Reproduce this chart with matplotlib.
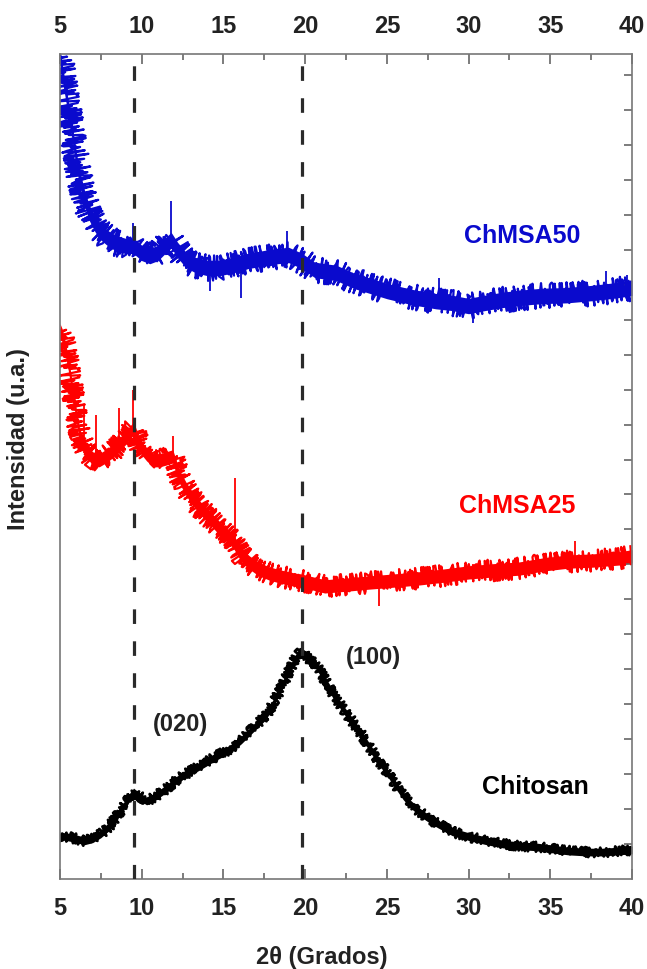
import numpy as np
import matplotlib
matplotlib.use("Agg")
import matplotlib.pyplot as plt

plt.rcParams['font.family'] = ['Liberation Sans', 'DejaVu Sans']
plt.rcParams['font.weight'] = 'bold'
plt.rcParams['axes.labelweight'] = 'bold'
plt.rcParams['lines.scale_dashes'] = False

# XRD patterns, smoothed trace + scan noise half-width (u.a.)
x_50 = [5.0, 5.2, 5.4, 5.6, 5.8, 6.0, 6.2, 6.5, 6.8, 7.1, 7.4, 7.9, 8.4, 9.0, 9.5,
        10.0, 10.5, 11.0, 11.3, 11.8, 12.2, 12.7, 13.3, 14.0, 14.8, 15.6, 16.5,
        17.6, 18.3, 19.0, 19.8, 20.6, 21.9, 23.0, 25.0, 26.5, 28.0, 29.0, 30.0,
        31.0, 32.0, 33.0, 34.5, 36.0, 37.5, 39.2, 40.0]
y_50 = [23.55, 22.92, 22.35, 21.78, 21.20, 20.57, 20.06, 19.48, 19.05, 18.77, 18.54,
        18.34, 18.19, 18.11, 18.11, 17.91, 17.82, 17.91, 18.05, 18.28, 17.99, 17.71,
        17.56, 17.48, 17.48, 17.56, 17.68, 17.77, 17.82, 17.85, 17.68, 17.42, 17.34,
        17.11, 16.82, 16.65, 16.53, 16.48, 16.39, 16.48, 16.56, 16.62, 16.68, 16.70,
        16.76, 16.85, 16.91]
noise_50 = 0.22

x_25 = [5.0, 5.15, 5.3, 5.5, 5.7, 5.95, 6.2, 6.6, 7.0, 7.4, 7.8, 8.2, 8.6, 9.0, 9.5,
        9.9, 10.3, 10.7, 11.1, 11.5, 11.9, 12.3, 12.7, 13.1, 13.6, 14.1, 14.6, 15.1,
        15.6, 16.1, 16.6, 17.1, 17.8, 18.5, 19.3, 20.0, 21.2, 22.5, 23.9, 25.5, 27.0,
        28.5, 30.0, 31.5, 33.1, 34.6, 36.1, 37.6, 39.2, 40.0]
y_25 = [15.70, 15.53, 15.24, 14.76, 14.18, 13.41, 12.69, 12.26, 12.03, 11.98, 12.09,
        12.23, 12.41, 12.61, 12.89, 12.38, 12.15, 11.98, 11.98, 12.03, 12.09, 11.52,
        11.17, 10.89, 10.60, 10.37, 10.11, 9.89, 9.66, 9.26, 9.05, 8.88, 8.74, 8.65,
        8.57, 8.51, 8.37, 8.42, 8.48, 8.54, 8.60, 8.68, 8.77, 8.83, 8.88, 9.00, 9.08,
        9.11, 9.17, 9.23]
noise_25 = 0.19

x_ch = [5.0, 5.5, 6.0, 6.5, 7.0, 7.5, 8.0, 8.5, 9.0, 9.5, 9.8, 10.3, 10.8, 11.5, 12.0,
        12.5, 13.0, 13.6, 14.1, 14.6, 15.1, 15.6, 16.1, 16.6, 17.1, 17.6, 18.1, 18.6,
        19.0, 19.3, 19.6, 19.8, 20.2, 20.7, 21.0, 21.4, 21.9, 22.4, 22.9, 23.5, 24.0,
        24.5, 25.0, 25.5, 26.0, 26.5, 27.0, 27.5, 28.1, 29.0, 30.1, 31.1, 32.1, 33.1,
        34.1, 35.1, 36.1, 37.2, 38.2, 39.2, 40.0]
y_ch = [1.23, 1.20, 1.15, 1.09, 1.15, 1.29, 1.49, 1.81, 2.15, 2.49, 2.38, 2.23, 2.35,
        2.58, 2.78, 2.95, 3.09, 3.24, 3.38, 3.52, 3.64, 3.78, 3.98, 4.21, 4.44, 4.67,
        5.07, 5.53, 5.93, 6.22, 6.45, 6.50, 6.30, 6.10, 5.87, 5.53, 5.16, 4.81, 4.50,
        4.10, 3.72, 3.38, 3.07, 2.72, 2.38, 2.12, 1.92, 1.75, 1.58, 1.35, 1.20, 1.09,
        1.00, 0.95, 0.92, 0.86, 0.80, 0.77, 0.77, 0.80, 0.83]
noise_ch = 0.11

# isolated spikes: position, low end, high end
spk_50_x = [7.3, 9.45, 11.8, 14.2, 16.1, 18.9, 28.2, 30.3, 38.4, 39.7]
spk_50_lo = [18.6, 18.0, 18.1, 16.82, 16.62, 17.7, 16.5, 15.90, 16.8, 16.8]
spk_50_hi = [19.14, 18.77, 19.40, 17.5, 17.6, 18.54, 17.19, 16.4, 17.39, 17.28]
spk_25_x = [6.5, 7.2, 8.6, 9.45, 11.9, 15.7, 24.5, 36.5]
spk_25_lo = [12.2, 12.0, 12.3, 12.8, 12.0, 9.6, 7.82, 9.0]
spk_25_hi = [13.55, 13.27, 13.47, 13.98, 12.66, 11.46, 8.5, 9.66]

peak_pos = [9.5, 19.8]

blue = '#0a0acd'
red = '#ff0000'

fig = plt.figure(figsize=(6.47, 9.70), dpi=100)
ax = fig.add_axes([0.0927, 0.0928, 0.8841, 0.8505])

# band for the trace body, jittery stroke on top for the grainy scan noise
for xs, ys, nz, c, jit, w in [(x_50, y_50, noise_50, blue, 13, 1.6),
                              (x_25, y_25, noise_25, red, 11, 1.6),
                              (x_ch, y_ch, noise_ch, 'black', 5, 2.0)]:
    xs = np.array(xs)
    ys = np.array(ys)
    ax.fill_between(xs, ys - nz, ys + nz, color=c, lw=0)
    ln, = ax.plot(xs, ys, color=c, lw=w)
    ln.set_sketch_params(scale=jit, length=1.3, randomness=3)

ax.vlines(spk_50_x, spk_50_lo, spk_50_hi, color=blue, lw=1.3)
ax.vlines(spk_25_x, spk_25_lo, spk_25_hi, color=red, lw=1.3)

for p in peak_pos:
    ax.axvline(p, color='#2a2a2a', lw=2.3, dashes=(10.5, 12.5), zorder=5)

ax.text(33.3, 18.42, 'ChMSA50', color=blue, fontsize=18, ha='center', va='center')
ax.text(33.0, 10.69, 'ChMSA25', color=red, fontsize=18, ha='center', va='center')
ax.text(34.1, 2.66, 'Chitosan', color='black', fontsize=18, ha='center', va='center')
ax.text(24.2, 6.36, '(100)', color='#222222', fontsize=17, ha='center', va='center')
ax.text(12.4, 4.44, '(020)', color='#222222', fontsize=17, ha='center', va='center')

ax.set_xlim(5, 40)
ax.set_ylim(0, 23.6)
ax.set_xticks(np.arange(5, 41, 5))
ax.set_xticks(np.arange(7.5, 40, 5), minor=True)
ax.set_yticks(np.arange(1, 24, 1))
ax.set_yticklabels([])

for s in ax.spines.values():
    s.set_color('#777777')
    s.set_linewidth(1.2)

ax.tick_params(axis='x', which='both', direction='in', top=True, bottom=True,
               labeltop=True, labelbottom=True, colors='#666666', labelcolor='#222222',
               labelsize=17, pad=12)
ax.tick_params(axis='x', which='major', length=7, width=1.2)
ax.tick_params(axis='x', which='minor', length=4, width=1.2)
ax.tick_params(axis='y', which='both', direction='in', left=False, right=True,
               labelleft=False, length=6, width=1.2, colors='#666666')

ax.set_xlabel('2θ (Grados)', fontsize=17, color='#222222')
ax.xaxis.set_label_coords(0.458, -0.08)
ax.set_ylabel('Intensidad (u.a.)', fontsize=17, color='#222222')
ax.yaxis.set_label_coords(-0.052, 0.535)

fig.savefig('out.png', dpi=100)
